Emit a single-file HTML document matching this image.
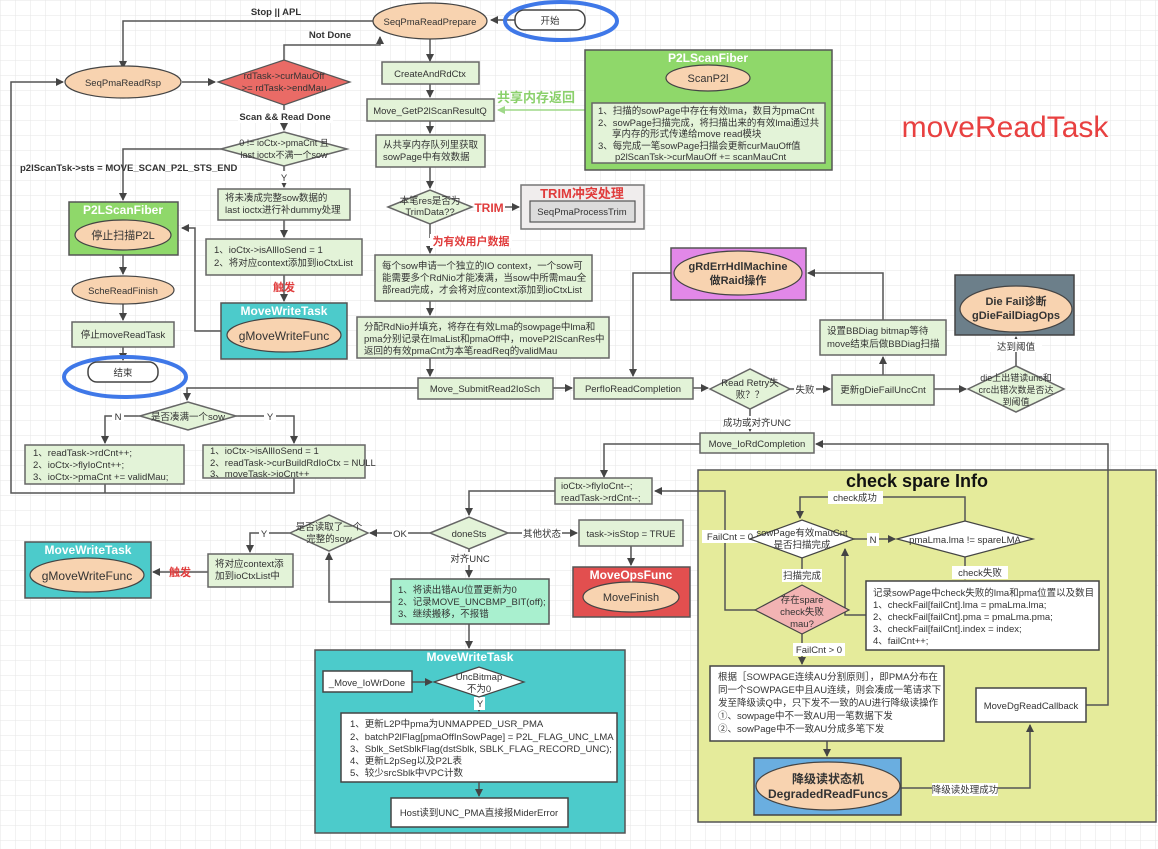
<!DOCTYPE html>
<html><head><meta charset="utf-8"><style>
html,body{margin:0;padding:0;background:#fff}
svg{display:block}
text{font-family:"Liberation Sans","Noto Sans CJK SC",sans-serif;font-size:9.5px;fill:#333}
.b{font-weight:bold}
.w{fill:#fff;font-weight:bold;font-size:12px}
.ln{stroke:#555;stroke-width:1.5;fill:none}
.bx{fill:#e3f3d8;stroke:#666;stroke-width:1.5}
.wb{fill:#fff;stroke:#444;stroke-width:1.5}
.el{fill:#f8d3b0;stroke:#444;stroke-width:1.2}
.lab{fill:#fff}
</style></head><body>
<svg width="1158" height="849" viewBox="0 0 1158 849" xmlns="http://www.w3.org/2000/svg">
<defs>
<pattern id="g" width="15" height="15" patternUnits="userSpaceOnUse"><path d="M15 0H0V15" fill="none" stroke="#e6e6e6" stroke-width="1"/></pattern>
<marker id="a" markerWidth="8" markerHeight="8" refX="7" refY="4" orient="auto" markerUnits="userSpaceOnUse"><path d="M0,0 L8,4 L0,8 z" fill="#444"/></marker>
<marker id="ag" markerWidth="8" markerHeight="8" refX="7" refY="4" orient="auto" markerUnits="userSpaceOnUse"><path d="M0,0 L8,4 L0,8 z" fill="#9fd889"/></marker>
</defs>
<rect width="1158" height="849" fill="url(#g)"/>

<rect x="698" y="470" width="458" height="352" fill="#e5eb9b" stroke="#555" stroke-width="1.5"/>
<text x="917" y="487" text-anchor="middle" class="b" style="font-size:18px;fill:#111">check spare Info</text>
<rect x="315" y="650" width="310" height="183" fill="#4ccbcb" stroke="#555" stroke-width="1.5"/>
<text x="470" y="661" text-anchor="middle" class="w">MoveWriteTask</text>

<g class="ln">
<path d="M374,21 H123 V68" marker-end="url(#a)"/>
<path d="M284,60 V45 H380 V37" marker-end="url(#a)"/>
<path d="M182,82 H215" marker-end="url(#a)"/>
<path d="M284,105 V130" marker-end="url(#a)"/>
<path d="M221,149 H123 V200" marker-end="url(#a)"/>
<path d="M284,166 V187" marker-end="url(#a)"/>
<path d="M284,220 V237" marker-end="url(#a)"/>
<path d="M284,275 V301" marker-end="url(#a)"/>
<path d="M221,331 H195 V228 H182" marker-end="url(#a)"/>
<path d="M123,255 V274" marker-end="url(#a)"/>
<path d="M123,304 V320" marker-end="url(#a)"/>
<path d="M123,347 V360" marker-end="url(#a)"/>
<path d="M105,484 V493 M294,478 V493 H11 V82 H63" marker-end="url(#a)"/>
<path d="M418,388 H187 V400" marker-end="url(#a)"/>
<path d="M140,416 H105 V443" marker-end="url(#a)"/>
<path d="M236,416 H294 V443" marker-end="url(#a)"/>
<path d="M515,20 H491" marker-end="url(#a)"/>
<path d="M430,39 V61" marker-end="url(#a)"/>
<path d="M430,84 V97" marker-end="url(#a)"/>
<path d="M430,121 V133" marker-end="url(#a)"/>
<path d="M430,167 V188" marker-end="url(#a)"/>
<path d="M505,207 H519" marker-end="url(#a)"/>
<path d="M430,224 V238 M430,248 V253" marker-end="url(#a)"/>
<path d="M430,301 V315" marker-end="url(#a)"/>
<path d="M430,358 V376" marker-end="url(#a)"/>
<path d="M553,388 H572" marker-end="url(#a)"/>
<path d="M673,273 H633 V376" marker-end="url(#a)"/>
<path d="M693,388 H708" marker-end="url(#a)"/>
<path d="M790,389 H830" marker-end="url(#a)"/>
<path d="M934,389 H966" marker-end="url(#a)"/>
<path d="M883,375 V357" marker-end="url(#a)"/>
<path d="M883,320 V273 H808" marker-end="url(#a)"/>
<path d="M1016,367 V337" marker-end="url(#a)"/>
<path d="M750,409 V431" marker-end="url(#a)"/>
<path d="M1086,705 H1108 V444 H816" marker-end="url(#a)"/>
<path d="M700,444 H604 V477" marker-end="url(#a)"/>
<path d="M555,491 H469 V515" marker-end="url(#a)"/>
<path d="M430,533 H370" marker-end="url(#a)"/>
<path d="M508,533 H577" marker-end="url(#a)"/>
<path d="M631,546 V565" marker-end="url(#a)"/>
<path d="M469,549 V577" marker-end="url(#a)"/>
<path d="M391,602 H329 V553" marker-end="url(#a)"/>
<path d="M290,533 H250 V552" marker-end="url(#a)"/>
<path d="M208,572 H153" marker-end="url(#a)"/>
<path d="M469,624 V648" marker-end="url(#a)"/>
<path d="M412,682 H432" marker-end="url(#a)"/>
<path d="M479,696 V711" marker-end="url(#a)"/>
<path d="M479,782 V796" marker-end="url(#a)"/>
<path d="M708,91 V101" marker-end="url(#a)"/>
<path d="M755,610 H725 V491 H655" marker-end="url(#a)"/>
<path d="M854,539 H895" marker-end="url(#a)"/>
<path d="M965,521 V497 H800 V518" marker-end="url(#a)"/>
<path d="M965,557 V579" marker-end="url(#a)"/>
<path d="M866,615 H845 V549" marker-end="url(#a)"/>
<path d="M802,558 V582" marker-end="url(#a)"/>
<path d="M802,632 V664" marker-end="url(#a)"/>
<path d="M827,741 V756" marker-end="url(#a)"/>
<path d="M901,788 H1030 V725" marker-end="url(#a)"/>
</g>
<path d="M592,110 H498" stroke="#9fd889" stroke-width="1.5" fill="none" marker-end="url(#ag)"/>

<text x="276" y="15" class="b" text-anchor="middle">Stop || APL</text>
<text x="330" y="38" class="b" text-anchor="middle">Not Done</text>
<rect x="238" y="110" width="95" height="13" class="lab"/><text x="285" y="120" class="b" text-anchor="middle">Scan &amp;&amp; Read Done</text>
<text x="20" y="171" class="b">p2lScanTsk-&gt;sts = MOVE_SCAN_P2L_STS_END</text>
<rect x="279" y="171" width="10" height="12" class="lab"/><text x="284" y="181" text-anchor="middle">Y</text>
<text x="284" y="291" text-anchor="middle" class="b" style="fill:#e03c3c;font-size:11px">触发</text>
<rect x="112" y="410" width="12" height="12" class="lab"/><text x="118" y="420" text-anchor="middle">N</text>
<rect x="264" y="410" width="12" height="12" class="lab"/><text x="270" y="420" text-anchor="middle">Y</text>
<text x="536" y="102" text-anchor="middle" class="b" style="fill:#8bd06c;font-size:13px">共享内存返回</text>
<text x="489" y="212" text-anchor="middle" class="b" style="fill:#e03c3c;font-size:12px">TRIM</text>
<rect x="430" y="234" width="82" height="14" class="lab"/><text x="471" y="245" text-anchor="middle" class="b" style="fill:#e03c3c;font-size:11px">为有效用户数据</text>
<rect x="794" y="382" width="22" height="13" class="lab"/><text x="805" y="393" text-anchor="middle">失败</text>
<rect x="990" y="339" width="52" height="13" class="lab"/><text x="1016" y="350" text-anchor="middle">达到阈值</text>
<rect x="724" y="416" width="66" height="13" class="lab"/><text x="757" y="426" text-anchor="middle">成功或对齐UNC</text>
<rect x="392" y="527" width="16" height="13" class="lab"/><text x="400" y="537" text-anchor="middle">OK</text>
<rect x="522" y="527" width="40" height="13" class="lab"/><text x="542" y="537" text-anchor="middle">其他状态</text>
<rect x="450" y="552" width="40" height="13" class="lab"/><text x="470" y="562" text-anchor="middle">对齐UNC</text>
<rect x="259" y="527" width="10" height="12" class="lab"/><text x="264" y="537" text-anchor="middle">Y</text>
<text x="180" y="576" text-anchor="middle" class="b" style="fill:#e03c3c;font-size:11px">触发</text>
<rect x="474" y="697" width="11" height="13" class="lab"/><text x="480" y="707" text-anchor="middle">Y</text>
<rect x="828" y="491" width="55" height="13" class="lab"/><text x="855" y="501" text-anchor="middle">check成功</text>
<rect x="867" y="533" width="12" height="13" class="lab"/><text x="873" y="543" text-anchor="middle">N</text>
<rect x="952" y="566" width="56" height="13" class="lab"/><text x="980" y="576" text-anchor="middle">check失败</text>
<rect x="702" y="530" width="56" height="13" class="lab"/><text x="730" y="540" text-anchor="middle">FailCnt = 0</text>
<rect x="782" y="569" width="40" height="13" class="lab"/><text x="802" y="579" text-anchor="middle">扫描完成</text>
<rect x="793" y="643" width="52" height="13" class="lab"/><text x="819" y="653" text-anchor="middle">FailCnt &gt; 0</text>
<rect x="932" y="783" width="66" height="13" class="lab"/><text x="965" y="793" text-anchor="middle">降级读处理成功</text>

<ellipse cx="430" cy="21" rx="57" ry="18" class="el"/><text x="430" y="25" text-anchor="middle">SeqPmaReadPrepare</text>
<rect x="515" y="10" width="70" height="20" rx="9" class="wb"/><text x="550" y="24" text-anchor="middle">开始</text>
<ellipse cx="561" cy="21" rx="56" ry="19" fill="none" stroke="#3f78e8" stroke-width="4"/>
<ellipse cx="123" cy="82" rx="58" ry="16" class="el"/><text x="123" y="86" text-anchor="middle">SeqPmaReadRsp</text>
<polygon points="218,82 284,60 350,82 284,105" fill="#ea6b66" stroke="#555" stroke-width="1.2"/>
<text x="284" y="79" text-anchor="middle">rdTask-&gt;curMauOff</text><text x="284" y="91" text-anchor="middle">&gt;= rdTask-&gt;endMau</text>
<polygon points="221,149 284,132 347,149 284,166" class="bx"/>
<text x="284" y="146" text-anchor="middle" style="font-size:9px">0 != ioCtx-&gt;pmaCnt 且</text><text x="284" y="158" text-anchor="middle" style="font-size:9px">last ioctx不满一个sow</text>
<rect x="218" y="189" width="132" height="31" class="bx"/>
<text x="225" y="201">将未凑成完整sow数据的</text><text x="225" y="213">last ioctx进行补dummy处理</text>
<rect x="206" y="239" width="156" height="36" class="bx"/>
<text x="214" y="253">1、ioCtx-&gt;isAllIoSend = 1</text><text x="214" y="266">2、将对应context添加到ioCtxList</text>
<rect x="221" y="303" width="126" height="56" fill="#4ccbcb" stroke="#555" stroke-width="1.5"/>
<text x="284" y="315" text-anchor="middle" class="w">MoveWriteTask</text>
<ellipse cx="284" cy="335" rx="57" ry="17" class="el"/><text x="284" y="340" text-anchor="middle" style="font-size:12px">gMoveWriteFunc</text>
<rect x="69" y="202" width="109" height="53" fill="#8fd86a" stroke="#555" stroke-width="1.5"/>
<text x="123" y="214" text-anchor="middle" class="w">P2LScanFiber</text>
<ellipse cx="123" cy="235" rx="48" ry="15" class="el"/><text x="123" y="239" text-anchor="middle" style="font-size:11px">停止扫描P2L</text>
<ellipse cx="123" cy="290" rx="51" ry="14" class="el"/><text x="123" y="294" text-anchor="middle">ScheReadFinish</text>
<rect x="72" y="322" width="102" height="25" class="bx"/><text x="123" y="338" text-anchor="middle">停止moveReadTask</text>
<rect x="88" y="362" width="70" height="20" rx="9" class="wb"/><text x="123" y="376" text-anchor="middle">结束</text>
<ellipse cx="125" cy="377" rx="61" ry="20" fill="none" stroke="#3f78e8" stroke-width="4"/>
<polygon points="140,416 188,402 236,416 188,430" class="bx"/><text x="188" y="420" text-anchor="middle">是否凑满一个sow</text>
<rect x="25" y="445" width="159" height="39" class="bx"/>
<text x="33" y="456">1、readTask-&gt;rdCnt++;</text><text x="33" y="468">2、ioCtx-&gt;flyIoCnt++;</text><text x="33" y="480">3、ioCtx-&gt;pmaCnt  += validMau;</text>
<rect x="203" y="445" width="162" height="33" class="bx"/>
<text x="210" y="454">1、ioCtx-&gt;isAllIoSend = 1</text><text x="210" y="466">2、readTask-&gt;curBuildRdIoCtx = NULL</text><text x="210" y="477">3、moveTask-&gt;ioCnt++</text>

<rect x="382" y="62" width="97" height="22" class="bx"/><text x="430" y="77" text-anchor="middle">CreateAndRdCtx</text>
<rect x="367" y="99" width="127" height="22" class="bx"/><text x="430" y="114" text-anchor="middle">Move_GetP2lScanResultQ</text>
<rect x="376" y="135" width="109" height="32" class="bx"/><text x="383" y="148">从共享内存队列里获取</text><text x="383" y="160">sowPage中有效数据</text>
<polygon points="388,207 430,190 472,207 430,224" class="bx"/><text x="430" y="204" text-anchor="middle">本笔res是否为</text><text x="430" y="215" text-anchor="middle">TrimData??</text>
<rect x="521" y="185" width="123" height="44" fill="#f0eded" stroke="#777" stroke-width="1.5"/>
<text x="582" y="198" text-anchor="middle" class="b" style="fill:#e03c3c;font-size:13px">TRIM冲突处理</text>
<rect x="530" y="201" width="105" height="21" fill="#dcdcdc" stroke="#555" stroke-width="1.2"/><text x="582" y="215" text-anchor="middle">SeqPmaProcessTrim</text>
<rect x="375" y="255" width="217" height="46" class="bx"/>
<text x="382" y="269">每个sow申请一个独立的IO context，一个sow可</text><text x="382" y="281">能需要多个RdNio才能凑满，当sow中所需mau全</text><text x="382" y="293">部read完成，才会将对应context添加到ioCtxList</text>
<rect x="357" y="317" width="252" height="41" class="bx"/>
<text x="364" y="330">分配RdNio并填充，将存在有效Lma的sowpage中lma和</text><text x="364" y="342">pma分别记录在lmaList和pmaOff中，moveP2lScanRes中</text><text x="364" y="354">返回的有效pmaCnt为本笔readReq的validMau</text>
<rect x="418" y="378" width="135" height="21" class="bx"/><text x="485" y="392" text-anchor="middle">Move_SubmitRead2IoSch</text>
<rect x="574" y="378" width="119" height="21" class="bx"/><text x="633" y="392" text-anchor="middle">PerfIoReadCompletion</text>

<rect x="585" y="50" width="247" height="120" fill="#8fd86a" stroke="#555" stroke-width="1.5"/>
<text x="708" y="62" text-anchor="middle" class="w">P2LScanFiber</text>
<ellipse cx="708" cy="78" rx="42" ry="13" class="el"/><text x="708" y="82" text-anchor="middle" style="font-size:11px">ScanP2l</text>
<rect x="592" y="103" width="233" height="60" class="bx"/>
<text x="598" y="114">1、扫描的sowPage中存在有效lma，数目为pmaCnt</text>
<text x="598" y="126">2、sowPage扫描完成，将扫描出来的有效lma通过共</text>
<text x="612" y="137">享内存的形式传递给move read模块</text>
<text x="598" y="149">3、每完成一笔sowPage扫描会更新curMauOff值</text>
<text x="615" y="160">p2lScanTsk-&gt;curMauOff += scanMauCnt</text>
<text x="1005" y="137" text-anchor="middle" style="font-size:30px;fill:#e84040">moveReadTask</text>

<rect x="671" y="248" width="135" height="52" fill="#e288e8" stroke="#555" stroke-width="1.5"/>
<ellipse cx="738" cy="273" rx="64" ry="22" class="el"/>
<text x="738" y="270" text-anchor="middle" class="b" style="font-size:11px">gRdErrHdlMachine</text><text x="738" y="284" text-anchor="middle" class="b" style="font-size:11px">做Raid操作</text>
<polygon points="710,389 750,369 790,389 750,409" class="bx"/><text x="750" y="386" text-anchor="middle">Read Retry失</text><text x="750" y="398" text-anchor="middle">败？？</text>
<rect x="832" y="375" width="102" height="30" class="bx"/><text x="883" y="393" text-anchor="middle">更新gDieFailUncCnt</text>
<rect x="820" y="320" width="126" height="35" class="bx"/><text x="827" y="334">设置BBDiag bitmap等待</text><text x="827" y="347">move结束后做BBDiag扫描</text>
<polygon points="968,389 1016,366 1064,389 1016,412" class="bx"/>
<text x="1016" y="381" text-anchor="middle" style="font-size:9px">die上出错读unc和</text><text x="1016" y="393" text-anchor="middle" style="font-size:9px">crc出错次数是否达</text><text x="1016" y="405" text-anchor="middle" style="font-size:9px">到阈值</text>
<rect x="955" y="275" width="119" height="60" fill="#6c7f8a" stroke="#444" stroke-width="1.5"/>
<ellipse cx="1016" cy="309" rx="56" ry="23" class="el"/>
<text x="1016" y="305" text-anchor="middle" class="b" style="font-size:11px">Die Fail诊断</text><text x="1016" y="319" text-anchor="middle" class="b" style="font-size:11px">gDieFailDiagOps</text>
<rect x="700" y="433" width="114" height="20" class="bx"/><text x="757" y="447" text-anchor="middle">Move_IoRdCompletion</text>

<rect x="555" y="478" width="97" height="26" class="bx"/><text x="561" y="489">ioCtx-&gt;flyIoCnt--;</text><text x="561" y="501">readTask-&gt;rdCnt--;</text>
<polygon points="430,533 469,517 508,533 469,549" class="bx"/><text x="469" y="537" text-anchor="middle">doneSts</text>
<polygon points="290,533 329,515 368,533 329,551" class="bx"/><text x="329" y="530" text-anchor="middle">是否读取了一个</text><text x="329" y="542" text-anchor="middle">完整的sow</text>
<rect x="579" y="520" width="104" height="26" class="bx"/><text x="631" y="537" text-anchor="middle">task-&gt;isStop = TRUE</text>
<rect x="573" y="567" width="117" height="50" fill="#e24f4f" stroke="#555" stroke-width="1.5"/>
<text x="631" y="579" text-anchor="middle" class="w">MoveOpsFunc</text>
<ellipse cx="631" cy="597" rx="48" ry="15" class="el"/><text x="631" y="601" text-anchor="middle" style="font-size:11px">MoveFinish</text>
<rect x="391" y="579" width="158" height="45" fill="#a9f0cf" stroke="#555" stroke-width="1.5"/>
<text x="398" y="593">1、将读出错AU位置更新为0</text><text x="398" y="605">2、记录MOVE_UNCBMP_BIT(off);</text><text x="398" y="617">3、继续搬移，不报错</text>
<rect x="208" y="554" width="85" height="33" class="bx"/><text x="215" y="567">将对应context添</text><text x="215" y="579">加到ioCtxList中</text>
<rect x="25" y="542" width="126" height="56" fill="#4ccbcb" stroke="#555" stroke-width="1.5"/>
<text x="88" y="554" text-anchor="middle" class="w">MoveWriteTask</text>
<ellipse cx="87" cy="575" rx="57" ry="17" class="el"/><text x="87" y="580" text-anchor="middle" style="font-size:12px">gMoveWriteFunc</text>

<rect x="323" y="671" width="89" height="21" class="wb"/><text x="367" y="686" text-anchor="middle">_Move_IoWrDone</text>
<polygon points="434,682 479,667 524,682 479,697" fill="#fff" stroke="#444" stroke-width="1.2"/><text x="479" y="680" text-anchor="middle">UncBitmap</text><text x="479" y="692" text-anchor="middle">不为0</text>
<rect x="341" y="713" width="276" height="69" class="wb"/>
<text x="350" y="727">1、更新L2P中pma为UNMAPPED_USR_PMA</text>
<text x="350" y="740">2、batchP2lFlag[pmaOffInSowPage] = P2L_FLAG_UNC_LMA</text>
<text x="350" y="752">3、Sblk_SetSblkFlag(dstSblk, SBLK_FLAG_RECORD_UNC);</text>
<text x="350" y="764">4、更新L2pSeg以及P2L表</text>
<text x="350" y="776">5、较少srcSblk中VPC计数</text>
<rect x="391" y="798" width="177" height="29" class="wb"/><text x="479" y="816" text-anchor="middle">Host读到UNC_PMA直接报MiderError</text>

<polygon points="750,539 802,520 854,539 802,558" fill="#fff" stroke="#444" stroke-width="1.2"/>
<text x="802" y="536" text-anchor="middle">sowPage有效mauCnt</text><text x="802" y="548" text-anchor="middle">是否扫描完成</text>
<polygon points="897,539 965,521 1033,539 965,557" fill="#fff" stroke="#444" stroke-width="1.2"/>
<text x="965" y="543" text-anchor="middle">pmaLma.lma != spareLMA</text>
<polygon points="755,610 802,585 849,610 802,634" fill="#f2b3b3" stroke="#444" stroke-width="1.2"/>
<text x="802" y="603" text-anchor="middle">存在spare</text><text x="802" y="615" text-anchor="middle">check失败</text><text x="802" y="627" text-anchor="middle">mau?</text>
<rect x="866" y="581" width="233" height="69" class="wb"/>
<text x="873" y="596">记录sowPage中check失败的lma和pma位置以及数目</text>
<text x="873" y="608">1、checkFail[failCnt].lma = pmaLma.lma;</text>
<text x="873" y="620">2、checkFail[failCnt].pma = pmaLma.pma;</text>
<text x="873" y="632">3、checkFail[failCnt].index = index;</text>
<text x="873" y="644">4、failCnt++;</text>
<rect x="710" y="666" width="234" height="75" class="wb"/>
<text x="718" y="680">根据［SOWPAGE连续AU分割原则］，即PMA分布在</text>
<text x="718" y="693">同一个SOWPAGE中且AU连续，则会凑成一笔请求下</text>
<text x="718" y="706">发至降级读Q中，只下发不一致的AU进行降级读操作</text>
<text x="718" y="719">①、sowpage中不一致AU用一笔数据下发</text>
<text x="718" y="732">②、sowPage中不一致AU分成多笔下发</text>
<rect x="754" y="758" width="147" height="57" fill="#6aaee0" stroke="#444" stroke-width="1.5"/>
<ellipse cx="828" cy="786" rx="72" ry="24" class="el"/>
<text x="828" y="783" text-anchor="middle" class="b" style="font-size:12px">降级读状态机</text><text x="828" y="798" text-anchor="middle" class="b" style="font-size:12px">DegradedReadFuncs</text>
<rect x="976" y="688" width="110" height="34" class="wb"/><text x="1031" y="709" text-anchor="middle">MoveDgReadCallback</text>
</svg>
</body></html>
